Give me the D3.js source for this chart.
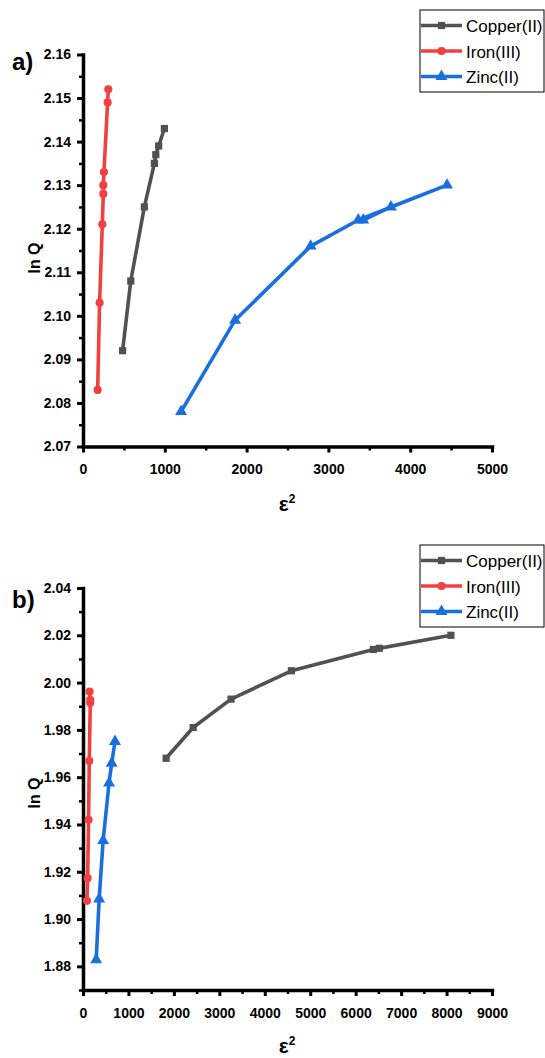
<!DOCTYPE html>
<html>
<head>
<meta charset="utf-8">
<script src="https://cdn.jsdelivr.net/npm/d3@7"></script>
<style>
  html, body { margin: 0; padding: 0; background: #fff; }
  svg { display: block; font-family: "Liberation Sans", Arial, sans-serif; }
</style>
</head>
<body>
<svg id="chart" width="545" height="1058"></svg>
<script>
// ---------- DATA ----------
const seriesNames = ["Copper(II)", "Iron(III)", "Zinc(II)"];
const seriesColors = ["#515151", "#F14040", "#1A6FDF"];
const seriesSymbols = ["square", "circle", "triangle"];

// Panel a
const aCopperX = [484, 584, 750, 873, 890, 925, 995];
const aCopperY = [2.092, 2.108, 2.125, 2.135, 2.137, 2.139, 2.143];
const aIronX = [179, 203, 236, 248, 248, 256, 301, 309];
const aIronY = [2.083, 2.103, 2.121, 2.128, 2.130, 2.133, 2.149, 2.152];
const aZincX = [1199, 1859, 2783, 3365, 4450, 3764, 3426];
const aZincY = [2.078, 2.099, 2.116, 2.122, 2.130, 2.125, 2.122];
const aXTicks = [0, 1000, 2000, 3000, 4000, 5000];
const aXMinor = [500, 1500, 2500, 3500, 4500];
const aYTicks = [2.07, 2.08, 2.09, 2.10, 2.11, 2.12, 2.13, 2.14, 2.15, 2.16];
const aYMinor = [2.075, 2.085, 2.095, 2.105, 2.115, 2.125, 2.135, 2.145, 2.155];

// Panel b
const bCopperX = [1829, 2424, 3258, 4586, 6390, 8095, 6520];
const bCopperY = [1.968, 1.981, 1.993, 2.005, 2.014, 2.020, 2.0145];
const bIronX = [87, 102, 123, 138, 160, 160, 145];
const bIronY = [1.9077, 1.9173, 1.9420, 1.9669, 1.9915, 1.9927, 1.9962];
const bZincX = [290, 356, 443, 573, 631, 704];
const bZincY = [1.8828, 1.9085, 1.9332, 1.9575, 1.9659, 1.9751];
const bXTicks = [0, 1000, 2000, 3000, 4000, 5000, 6000, 7000, 8000, 9000];
const bXMinor = [500, 1500, 2500, 3500, 4500, 5500, 6500, 7500, 8500];
const bYTicks = [1.88, 1.90, 1.92, 1.94, 1.96, 1.98, 2.00, 2.02, 2.04];
const bYMinor = [1.87, 1.89, 1.91, 1.93, 1.95, 1.97, 1.99, 2.01, 2.03];

const svg = d3.select("#chart");

function symbolPath(type, size) {
  const t = type === "square" ? d3.symbolSquare : type === "circle" ? d3.symbolCircle : d3.symbolTriangle;
  return d3.symbol().type(t).size(size)();
}
const symSize = { square: 52, circle: 52, triangle: 62 };

function panel(cfg) {
  const x = d3.scaleLinear().domain(cfg.xDomain).range(cfg.xRange);
  const y = d3.scaleLinear().domain(cfg.yDomain).range(cfg.yRange);
  const g = svg.append("g");

  // minor ticks
  const xMinorAxis = d3.axisBottom(x).tickValues(cfg.xMinor).tickSize(4).tickSizeOuter(0).tickFormat("");
  const yMinorAxis = d3.axisLeft(y).tickValues(cfg.yMinor).tickSize(4).tickSizeOuter(0).tickFormat("");
  const gxm = g.append("g").attr("transform", `translate(0,${cfg.yRange[0]})`).call(xMinorAxis);
  const gym = g.append("g").attr("transform", `translate(${cfg.xRange[0]},0)`).call(yMinorAxis);
  [gxm, gym].forEach(a => { a.select(".domain").remove(); a.selectAll(".tick line").attr("stroke", "#000").attr("stroke-width", 2.5); });

  // major axes
  const xAxis = d3.axisBottom(x).tickValues(cfg.xTicks).tickSize(6).tickSizeOuter(0).tickPadding(12).tickFormat(d3.format("d"));
  const yAxis = d3.axisLeft(y).tickValues(cfg.yTicks).tickSize(6).tickSizeOuter(0).tickPadding(6).tickFormat(d3.format(".2f"));
  const gx = g.append("g").attr("transform", `translate(0,${cfg.yRange[0]})`).call(xAxis);
  const gy = g.append("g").attr("transform", `translate(${cfg.xRange[0]},0)`).call(yAxis);
  [gx, gy].forEach(a => {
    a.select(".domain").attr("stroke", "#000").attr("stroke-width", 3.5).attr("stroke-linecap", "square");
    a.selectAll(".tick line").attr("stroke", "#000").attr("stroke-width", 3);
    a.selectAll(".tick text").attr("fill", "#000").attr("font-size", 14).attr("font-weight", "bold")
      .attr("font-family", "'Liberation Sans', Arial, sans-serif");
  });

  // series
  const line = d3.line().x(d => x(d[0])).y(d => y(d[1]));
  cfg.series.forEach((s, i) => {
    const pts = s.x.map((v, k) => [v, s.y[k]]);
    g.append("path").datum(pts).attr("d", line).attr("fill", "none")
      .attr("stroke", seriesColors[i]).attr("stroke-width", 3.6).attr("stroke-linejoin", "round");
    g.selectAll(null).data(pts).enter().append("path")
      .attr("d", symbolPath(seriesSymbols[i], symSize[seriesSymbols[i]]))
      .attr("transform", d => `translate(${x(d[0])},${y(d[1])})`)
      .attr("fill", seriesColors[i]);
  });

  // axis titles
  g.append("text").attr("transform", `translate(${cfg.yTitleX},${cfg.yTitleY}) rotate(-90)`)
    .attr("text-anchor", "middle").attr("font-size", 16).attr("font-weight", "bold").text("ln Q");
  const xt = g.append("text").attr("x", cfg.xTitleX).attr("y", cfg.xTitleY)
    .attr("text-anchor", "middle").attr("font-size", 21).attr("font-weight", "bold");
  xt.append("tspan").text("ε");
  xt.append("tspan").attr("font-size", 12).attr("dy", -8).text("2");

  // panel label
  g.append("text").attr("x", 12).attr("y", cfg.labelY).attr("font-size", 24).attr("font-weight", "bold").text(cfg.label);

  // legend
  const lg = g.append("g").attr("transform", `translate(420,${cfg.legendTop})`);
  lg.append("rect").attr("x", 0).attr("y", 0).attr("width", 124).attr("height", 82)
    .attr("fill", "#fff").attr("stroke", "#000").attr("stroke-width", 1);
  seriesNames.forEach((n, i) => {
    const cy = 15.5 + i * 25.5;
    lg.append("line").attr("x1", 1).attr("x2", 42).attr("y1", cy).attr("y2", cy)
      .attr("stroke", seriesColors[i]).attr("stroke-width", 3.6);
    lg.append("path").attr("d", symbolPath(seriesSymbols[i], symSize[seriesSymbols[i]]))
      .attr("transform", `translate(21.5,${cy})`).attr("fill", seriesColors[i]);
    lg.append("text").attr("x", 46).attr("y", cy + 6.5).attr("font-size", 17).attr("fill", "#000").text(n);
  });
}

panel({
  xDomain: [0, 5000], xRange: [83, 492],
  yDomain: [2.07, 2.16], yRange: [446.5, 54.5],
  xTicks: aXTicks, xMinor: aXMinor, yTicks: aYTicks, yMinor: aYMinor,
  series: [{ x: aCopperX, y: aCopperY }, { x: aIronX, y: aIronY }, { x: aZincX, y: aZincY }],
  yTitleX: 40, yTitleY: 258, xTitleX: 287, xTitleY: 511,
  label: "a)", labelY: 70, legendTop: 10
});

panel({
  xDomain: [0, 9000], xRange: [83, 492],
  yDomain: [1.87, 2.04], yRange: [990, 588],
  xTicks: bXTicks, xMinor: bXMinor, yTicks: bYTicks, yMinor: bYMinor,
  series: [{ x: bCopperX, y: bCopperY }, { x: bIronX, y: bIronY }, { x: bZincX, y: bZincY }],
  yTitleX: 40, yTitleY: 793, xTitleX: 287, xTitleY: 1053,
  label: "b)", labelY: 608, legendTop: 545
});
</script>
</body>
</html>
